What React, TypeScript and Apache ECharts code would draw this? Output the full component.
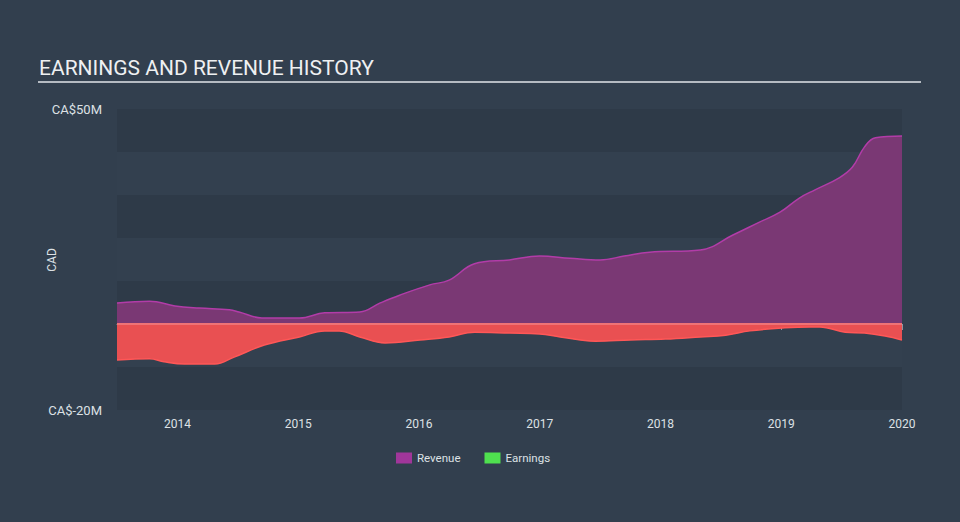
import React, { useEffect, useRef } from "react";
import * as echarts from "echarts";

const revenueYears = [2013.5, 2013.77, 2013.98, 2014.18, 2014.43, 2014.51, 2014.7, 2015.01, 2015.22, 2015.51, 2015.68, 2015.84, 2016.09, 2016.25, 2016.46, 2016.75, 2017.0, 2017.25, 2017.5, 2017.7, 2017.91, 2018.33, 2018.6, 2018.82, 2018.99, 2019.15, 2019.28, 2019.48, 2019.59, 2019.69, 2019.78, 2020.0];
const revenueValues = [4.9, 5.3, 4.2, 3.7, 3.3, 2.8, 1.4, 1.4, 2.6, 2.8, 4.9, 6.7, 9.1, 10.2, 14.0, 14.9, 15.8, 15.3, 14.9, 15.8, 16.7, 17.2, 20.7, 23.7, 26.0, 29.3, 31.2, 34.0, 36.5, 41.2, 43.3, 43.7];

const earningsYears = [2013.5, 2013.77, 2013.89, 2014.06, 2014.31, 2014.47, 2014.72, 2015.01, 2015.22, 2015.34, 2015.51, 2015.72, 2016.01, 2016.25, 2016.46, 2016.75, 2017.0, 2017.17, 2017.46, 2017.75, 2018.04, 2018.33, 2018.54, 2018.74, 2019.03, 2019.24, 2019.32, 2019.53, 2019.69, 2019.86, 2020.0];
const earningsValues = [-8.4, -8.1, -8.8, -9.3, -9.3, -7.7, -4.9, -3.0, -1.6, -1.6, -3.0, -4.4, -3.7, -3.0, -1.9, -2.1, -2.3, -3.0, -4.0, -3.7, -3.5, -3.0, -2.6, -1.6, -0.9, -0.7, -0.7, -1.9, -2.1, -2.8, -3.7];

const yearTicks = [2014, 2015, 2016, 2017, 2018, 2019, 2020];
const yLabelValues = [-20, 50];

export default function App() {
  const ref = useRef<HTMLDivElement>(null);
  useEffect(() => {
    if (!ref.current) return;
    const chart = echarts.init(ref.current, null, { renderer: "svg" });
    const font = "Roboto, 'Noto Sans', sans-serif";
    chart.setOption({
      animation: false,
      backgroundColor: "#323f4e",
      textStyle: { fontFamily: font },
      title: {
        text: "EARNINGS AND REVENUE HISTORY",
        left: 39,
        top: 57,
        padding: 0,
        textStyle: { color: "#eef0f2", fontSize: 21, fontWeight: "normal", fontFamily: font },
      },
      graphic: [
        {
          type: "line",
          shape: { x1: 38, y1: 82, x2: 921, y2: 82 },
          style: { stroke: "#b5bbc2", lineWidth: 2 },
        },
        {
          type: "text",
          x: 52,
          y: 260,
          rotation: Math.PI / 2,
          style: {
            text: "CAD",
            fill: "#dde1e5",
            fontSize: 12,
            fontFamily: font,
            align: "center",
            verticalAlign: "middle",
          },
        },
      ],
      legend: {
        left: 396,
        top: 452,
        padding: 0,
        itemWidth: 16,
        itemHeight: 11,
        itemGap: 24,
        icon: "rect",
        textStyle: { color: "#dde1e5", fontSize: 11.5, fontFamily: font },
        data: [
          { name: "Revenue", itemStyle: { color: "#a0369a" } },
          { name: "Earnings", itemStyle: { color: "#4fe04f" } },
        ],
      },
      grid: { left: 117, right: 58, top: 109, bottom: 112, containLabel: false },
      xAxis: {
        type: "value",
        min: 2013.5,
        max: 2020,
        splitLine: { show: false },
        axisLine: { show: true, lineStyle: { color: "#8d98a3", width: 1 } },
        axisTick: { show: true, length: 6, lineStyle: { color: "#8d98a3" }, customValues: yearTicks },
        axisLabel: {
          color: "#dde1e5",
          fontSize: 12,
          margin: 8,
          customValues: yearTicks,
          formatter: (v: number) => String(Math.round(v)),
        },
      },
      yAxis: {
        type: "value",
        min: -20,
        max: 50,
        interval: 10,
        axisLine: { show: false },
        axisTick: { show: false },
        splitLine: { show: false },
        splitArea: { show: true, areaStyle: { color: ["#2e3a48", "#33404f"] } },
        axisLabel: {
          color: "#dde1e5",
          fontSize: 13,
          margin: 15,
          customValues: yLabelValues,
          formatter: (v: number) => "CA$" + v + "M",
        },
      },
      series: [
        {
          name: "Revenue",
          type: "line",
          smooth: 0.4,
          showSymbol: false,
          symbol: "none",
          data: revenueYears.map((y, i) => [y, revenueValues[i]]),
          itemStyle: { color: "#a0369a" },
          lineStyle: { color: "#b23ca8", width: 1.5 },
          areaStyle: { color: "#7a3874", opacity: 1 },
          z: 2,
        },
        {
          name: "Earnings",
          type: "line",
          smooth: 0.4,
          showSymbol: false,
          symbol: "none",
          data: earningsYears.map((y, i) => [y, earningsValues[i]]),
          itemStyle: { color: "#4fe04f" },
          lineStyle: { color: "#ff5757", width: 1.5 },
          areaStyle: { color: "#e95052", opacity: 1 },
          markLine: {
            silent: true,
            symbol: "none",
            label: { show: false },
            lineStyle: { color: "#ef7376", type: "solid", width: 2 },
            data: [{ yAxis: 0 }],
          },
          z: 3,
        },
      ],
    });
    return () => chart.dispose();
  }, []);
  return <div ref={ref} style={{ width: 960, height: 522, position: "absolute", left: 0, top: 0 }} />;
}
